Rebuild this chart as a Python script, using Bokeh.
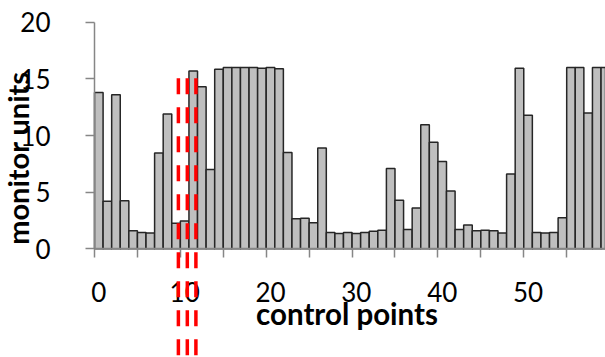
from bokeh.plotting import figure
from bokeh.models import Range1d, FixedTicker, Arrow, Label, ColumnDataSource
from bokeh.embed import file_html
from bokeh.resources import INLINE
import math

# ---- data ----
control_points = list(range(60))
monitor_units = [
    13.8, 4.2, 13.6, 4.25, 1.6, 1.45, 1.4, 8.45, 11.9, 2.25,
    2.45, 15.7, 14.3, 7.0, 15.85, 16.0, 16.0, 16.0, 16.0, 15.95,
    16.0, 15.9, 8.5, 2.65, 2.7, 2.3, 8.9, 1.45, 1.35, 1.45,
    1.35, 1.45, 1.55, 1.65, 7.1, 4.3, 1.7, 3.6, 10.95, 9.4,
    7.7, 5.1, 1.7, 2.1, 1.6, 1.65, 1.6, 1.4, 6.6, 15.95,
    11.8, 1.45, 1.4, 1.45, 2.75, 16.0, 16.0, 12.0, 16.0, 16.0,
]
marker_x = [9.27, 10.31, 11.31]
marker_top = [15.05, 15.05, 15.05]
marker_bottom = [-12, -12, -12]

y_ticks = [0, 5, 10, 15, 20]
x_label_ticks = [0, 10, 20, 30, 40, 50]
x_tick_marks = [-0.5 + 5 * k for k in range(13)]

FONT = "Lato"
AXIS_GRAY = "#868686"

# view window (frame fills the canvas; axes drawn at fixed data locations)
X_VIEW = (-11.45, 59.02)
Y_VIEW = (-9.59, 21.92)

p = figure(
    width=605, height=357,
    output_backend="svg", toolbar_location=None,
    x_range=Range1d(*X_VIEW), y_range=Range1d(*Y_VIEW),
    min_border=0, min_border_left=0, min_border_right=0,
    min_border_top=0, min_border_bottom=0,
)
p.outline_line_color = None
p.xgrid.visible = False
p.ygrid.visible = False

src = ColumnDataSource(dict(cp=control_points, mu=monitor_units))
p.vbar(x="cp", top="mu", width=1, source=src,
       fill_color="#BFBFBF", line_color="#262626", line_width=1.5)

msrc = ColumnDataSource(dict(x=marker_x, y0=marker_top, y1=marker_bottom))
p.add_layout(Arrow(end=None, source=msrc, x_start="x", y_start="y0",
                   x_end="x", y_end="y1", line_color="#FF0000",
                   line_width=3.5, line_dash="16 13"))

# y axis
ya = p.yaxis[0]
ya.fixed_location = -0.5
ya.bounds = (0, 20)
ya.ticker = FixedTicker(ticks=y_ticks)
ya.axis_line_color = AXIS_GRAY
ya.axis_line_width = 1.5
ya.major_tick_line_color = AXIS_GRAY
ya.major_tick_line_width = 1.5
ya.major_tick_out = 9
ya.major_tick_in = 0
ya.minor_tick_line_color = None
ya.major_label_standoff = 35
ya.major_label_text_font = FONT
ya.major_label_text_font_size = "26px"
ya.major_label_text_color = "black"

# x axis
xa = p.xaxis[0]
xa.fixed_location = 0
xa.bounds = (-0.5, X_VIEW[1])
xa.ticker = FixedTicker(ticks=x_label_ticks, minor_ticks=x_tick_marks)
xa.axis_line_color = AXIS_GRAY
xa.axis_line_width = 1.5
xa.major_tick_line_color = None
xa.major_tick_out = 0
xa.major_tick_in = 0
xa.minor_tick_line_color = AXIS_GRAY
xa.minor_tick_line_width = 1.5
xa.minor_tick_out = 9
xa.minor_tick_in = 0
xa.major_label_standoff = 24
xa.major_label_text_font = FONT
xa.major_label_text_font_size = "26px"
xa.major_label_text_color = "black"

# axis titles
p.add_layout(Label(x=28.91, y=-5.75, text="control points",
                   text_align="center", text_baseline="alphabetic",
                   text_font=FONT, text_font_style="bold",
                   text_font_size="29.5px", text_color="black"))
p.add_layout(Label(x=-9.47, y=8.01, text="monitor units",
                   angle=math.pi / 2, text_align="center",
                   text_baseline="middle", text_font=FONT,
                   text_font_style="bold", text_font_size="29px",
                   text_color="black"))

open("out.html", "w").write(file_html(p, INLINE))
